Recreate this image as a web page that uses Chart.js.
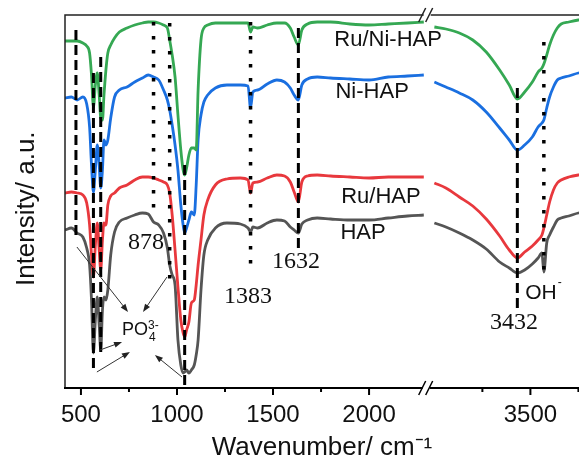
<!DOCTYPE html>
<html>
<head>
<meta charset="utf-8">
<script src="https://cdn.jsdelivr.net/npm/chart.js@4.4.1/dist/chart.umd.min.js"></script>
<style>
  html, body { margin: 0; padding: 0; background: #fff; overflow: hidden; }
  canvas { display: block; }
</style>
</head>
<body>
<canvas id="ftirChart" width="579" height="456"></canvas>
<script>
// FTIR spectra. Intensity is in arbitrary units.
// The x axis is broken between 2300 and 2960 cm-1.
const BREAK_LO = 2300;
const BREAK_HI = 2960;
const SHIFT = 660;

// wavenumbers (cm-1), left part of the axis
const waveLeft = [417, 450, 480, 510, 530, 545, 555, 565, 575, 585, 595, 603, 612, 620, 630, 640, 655, 675, 700,
  740, 780, 820, 850, 878, 905, 930, 950, 962, 975, 990, 1005, 1020, 1032, 1040, 1050, 1062, 1075, 1090, 1100,
  1110, 1125, 1140, 1160, 1200, 1260, 1330, 1370, 1383, 1395, 1420, 1470, 1520, 1560, 1590, 1610, 1632, 1650,
  1680, 1730, 1800, 1900, 2000, 2100, 2200, 2285];
// wavenumbers (cm-1), right part of the axis
const waveRight = [3000, 3060, 3130, 3200, 3270, 3340, 3390, 3432, 3470, 3510, 3540, 3560, 3570, 3585, 3600,
  3620, 3640, 3660, 3700, 3750, 3800];

const ruNiHapLeft = [347, 347, 347, 345, 342, 335, 313, 281, 303, 315, 293, 270, 268, 293, 318, 335, 343, 350, 356,
  360, 363, 365, 366, 366, 365, 363, 360, 348, 333, 311, 273, 238, 218, 213, 220, 233, 240, 240, 238,
  298, 348, 360, 363, 365, 365, 365, 365, 356, 361, 360, 363, 365, 365, 360, 351, 343, 358,
  364, 366, 366, 364, 363, 364, 365, 366];
const ruNiHapRight = [361, 359, 355, 348, 336, 318, 303, 289, 296, 306, 316, 320, 324, 333, 343,
  353, 360, 364, 366, 368, 369];

const niHapLeft = [290, 291, 288, 291, 284, 261, 223, 196, 218, 243, 223, 200, 218, 248, 243, 248, 270, 291, 298,
  301, 306, 310, 313, 311, 308, 298, 288, 278, 263, 243, 218, 183, 163, 155, 160, 168, 176, 173, 203,
  248, 273, 286, 293, 300, 303, 303, 302, 280, 296, 298, 304, 308, 306, 300, 293, 288, 303,
  309, 311, 310, 309, 308, 311, 312, 313];
const niHapRight = [306, 301, 295, 288, 276, 260, 248, 238, 243, 251, 261, 265, 268, 280, 291,
  301, 308, 310, 312, 315, 316];

const ruHapLeft = [195, 196, 195, 193, 185, 163, 133, 111, 143, 165, 138, 118, 148, 165, 163, 183, 192, 195, 200,
  203, 208, 211, 211, 210, 208, 206, 203, 195, 173, 138, 101, 68, 55, 51, 58, 66, 85, 88, 103,
  123, 148, 173, 188, 203, 209, 210, 208, 195, 205, 206, 210, 213, 212, 206, 196, 186, 206,
  212, 213, 212, 211, 210, 211, 211, 211];
const ruHapRight = [205, 200, 191, 182, 169, 152, 138, 130, 136, 142, 148, 153, 160, 173, 186,
  198, 205, 208, 211, 213, 214];

const hapLeft = [158, 160, 155, 151, 140, 123, 88, 35, 68, 91, 63, 38, 78, 91, 88, 98, 133, 156, 166,
  170, 173, 175, 174, 166, 163, 155, 140, 123, 113, 103, 48, 23, 15, 16, 18, 15, 18, 23, 33,
  48, 98, 133, 148, 160, 165, 164, 160, 156, 161, 160, 165, 168, 167, 161, 158, 155, 164,
  168, 170, 169, 168, 168, 170, 172, 173];
const hapRight = [165, 161, 155, 148, 139, 126, 120, 115, 118, 124, 130, 135, 116, 145, 153,
  161, 168, 170, 172, 175, 176];

// band markers: position, top and bottom ends, dashed or dotted
const markerWave = [474, 565, 603, 878, 962, 1040, 1383, 1632, 3432, 3570];
const markerTop = [358, 315, 331, 366, 365, 223, 366, 360, 300, 346];
const markerBottom = [148, 15, 36, 175, 103, 3, 116, 138, 78, 110];
const markerDotted = [false, false, false, true, true, false, true, false, false, true];

// x ticks (labelled ones are major)
const tickWaves = [500, 750, 1000, 1250, 1500, 1750, 2000, 3250, 3500, 3750];
const tickLabels = ['500', '', '1000', '', '1500', '', '2000', '', '3500', ''];

// text labels on the plot
const seriesNames = ['Ru/Ni-HAP', 'Ni-HAP', 'Ru/HAP', 'HAP'];
const seriesNameWave = [2099, 2016, 2062, 1969];
const seriesNameLevel = [348, 296, 191, 155];
const bandNames = ['878', '1383', '1632', '3432'];
const bandNameWave = [839, 1370, 1620, 3415];
const bandNameLevel = [145, 91, 126, 65];

// arrows pointing to the PO4 bands: [wave, level] start -> end
const arrowFrom = [[479, 141], [948, 111], [599, 38], [583, 16], [1026, 11]];
const arrowTo = [[745, 76], [823, 76], [714, 46], [755, 36], [885, 33]];

// map a wavenumber onto the broken axis
function axisPos(w) {
  return w >= BREAK_HI ? w - SHIFT : w;
}

function spectrum(left, right) {
  let pts = waveLeft.map((w, i) => ({x: axisPos(w), y: left[i]}));
  pts.push({x: BREAK_LO, y: null});
  waveRight.forEach((w, i) => pts.push({x: axisPos(w), y: right[i]}));
  return pts;
}

let datasets = [];
markerWave.forEach((w, i) => {
  datasets.push({
    data: [{x: axisPos(w), y: markerTop[i]}, {x: axisPos(w), y: markerBottom[i]}],
    borderColor: '#000',
    borderWidth: markerDotted[i] ? 3.5 : 3,
    borderDash: markerDotted[i] ? [3.5, 10.5] : [10, 5],
    borderCapStyle: 'butt',
    pointRadius: 0,
    order: 0
  });
});

const colors = ['#35a853', '#1a6fe0', '#e8383d', '#555555'];
[[ruNiHapLeft, ruNiHapRight], [niHapLeft, niHapRight], [ruHapLeft, ruHapRight], [hapLeft, hapRight]]
  .forEach((s, i) => {
    datasets.push({
      label: seriesNames[i],
      data: spectrum(s[0], s[1]),
      borderColor: colors[i],
      borderWidth: 2.8,
      pointRadius: 0,
      cubicInterpolationMode: 'monotone',
      spanGaps: false,
      order: 1
    });
  });

// the scale only gets the labelled ticks, the small ones are drawn by hand
const majorWaves = tickWaves.filter((w, i) => tickLabels[i]);
const majorLabels = tickLabels.filter(t => t);

function arrow(ctx, x1, y1, x2, y2) {
  const ang = Math.atan2(y2 - y1, x2 - x1);
  ctx.beginPath();
  ctx.moveTo(x1, y1);
  ctx.lineTo(x2 - 5 * Math.cos(ang), y2 - 5 * Math.sin(ang));
  ctx.stroke();
  ctx.beginPath();
  ctx.moveTo(x2, y2);
  ctx.lineTo(x2 - 8 * Math.cos(ang) + 3 * Math.sin(ang), y2 - 8 * Math.sin(ang) - 3 * Math.cos(ang));
  ctx.lineTo(x2 - 8 * Math.cos(ang) - 3 * Math.sin(ang), y2 - 8 * Math.sin(ang) + 3 * Math.cos(ang));
  ctx.closePath();
  ctx.fill();
}

// frame, broken axis marks, tick marks and text on the plot
const decorations = {
  id: 'decorations',
  afterDraw(chart) {
    const {ctx, chartArea: a, scales: {x, y}} = chart;
    const px = w => x.getPixelForValue(axisPos(w));
    const py = v => y.getPixelForValue(v);
    const xb = x.getPixelForValue((BREAK_LO + BREAK_HI - SHIFT) / 2);
    ctx.save();

    // frame
    ctx.strokeStyle = '#222';
    ctx.lineWidth = 1.5;
    ctx.beginPath();
    ctx.moveTo(a.left, a.bottom);
    ctx.lineTo(a.left, a.top);
    ctx.lineTo(xb - 3, a.top);
    ctx.moveTo(xb + 4, a.top);
    ctx.lineTo(a.right, a.top);
    ctx.stroke();
    ctx.strokeStyle = '#000';
    ctx.lineWidth = 2;
    ctx.beginPath();
    ctx.moveTo(a.left - 1, a.bottom);
    ctx.lineTo(xb - 4, a.bottom);
    ctx.moveTo(xb + 3, a.bottom);
    ctx.lineTo(a.right, a.bottom);
    ctx.stroke();

    // tick marks
    tickWaves.forEach((w, i) => {
      const len = tickLabels[i] ? 7 : 4;
      ctx.beginPath();
      ctx.moveTo(px(w), a.bottom);
      ctx.lineTo(px(w), a.bottom + len);
      ctx.stroke();
    });

    // break marks
    ctx.lineWidth = 1.5;
    [[a.top, '#222'], [a.bottom, '#000']].forEach(([yy, c]) => {
      ctx.strokeStyle = c;
      ctx.beginPath();
      ctx.moveTo(xb - 8, yy + 7);
      ctx.lineTo(xb - 1, yy - 7);
      ctx.moveTo(xb - 1, yy + 7);
      ctx.lineTo(xb + 6, yy - 7);
      ctx.stroke();
    });

    // arrows
    ctx.strokeStyle = '#333';
    ctx.fillStyle = '#222';
    ctx.lineWidth = 1;
    arrowFrom.forEach((f, i) => {
      arrow(ctx, px(f[0]), py(f[1]), px(arrowTo[i][0]), py(arrowTo[i][1]));
    });

    // series names
    ctx.fillStyle = '#111';
    ctx.textAlign = 'center';
    ctx.textBaseline = 'middle';
    ctx.font = '22px "Liberation Sans", Arial, sans-serif';
    seriesNames.forEach((t, i) => ctx.fillText(t, px(seriesNameWave[i]), py(seriesNameLevel[i])));

    // band positions
    ctx.font = '24px "Liberation Serif", "Times New Roman", serif';
    bandNames.forEach((t, i) => ctx.fillText(t, px(bandNameWave[i]), py(bandNameLevel[i])));

    // OH- and PO4 3-
    ctx.textAlign = 'left';
    ctx.font = '21px "Liberation Sans", Arial, sans-serif';
    let ox = px(3473), oy = py(95);
    ctx.fillText('OH', ox, oy);
    let ow = ctx.measureText('OH').width;
    ctx.font = '12px "Liberation Sans", Arial, sans-serif';
    ctx.fillText('-', ox + ow + 1, oy - 10);

    ctx.font = '18px "Liberation Sans", Arial, sans-serif';
    let pxp = px(714), pyp = py(57.5);
    ctx.fillText('PO', pxp, pyp);
    let pw = ctx.measureText('PO').width;
    ctx.font = '12px "Liberation Sans", Arial, sans-serif';
    ctx.fillText('3-', pxp + pw, pyp - 5);
    ctx.fillText('4', pxp + pw + 1, pyp + 7);

    ctx.restore();
  }
};

new Chart(document.getElementById('ftirChart'), {
  type: 'line',
  data: {datasets: datasets},
  options: {
    responsive: false,
    animation: false,
    devicePixelRatio: 1,
    layout: {padding: {top: 15, right: 0, bottom: 0, left: 0}},
    plugins: {legend: {display: false}, tooltip: {enabled: false}},
    scales: {
      x: {
        type: 'linear',
        min: 417,
        max: 3093,
        grid: {display: false},
        border: {display: false},
        afterBuildTicks: scale => {
          scale.ticks = majorWaves.map(w => ({value: axisPos(w)}));
        },
        afterFit: scale => { scale.height = 68; },
        ticks: {
          autoSkip: false,
          maxRotation: 0,
          padding: 5,
          color: '#111',
          font: {family: '"Liberation Sans", Arial, sans-serif', size: 24},
          callback: (value, index) => majorLabels[index]
        },
        title: {
          display: true,
          text: 'Wavenumber/ cm\u207B\u00B9',
          color: '#111',
          font: {family: '"Liberation Sans", Arial, sans-serif', size: 26, lineHeight: 0.6},
          padding: {top: 0, bottom: 0}
        }
      },
      y: {
        min: 0,
        max: 373,
        grid: {display: false},
        border: {display: false},
        ticks: {display: false},
        afterFit: scale => { scale.width = 65; },
        title: {
          display: true,
          text: 'Intensity/ a.u.  ',
          color: '#111',
          font: {family: '"Liberation Sans", Arial, sans-serif', size: 26, lineHeight: 1},
          padding: {top: 14, bottom: 0}
        }
      }
    }
  },
  plugins: [decorations]
});
</script>
</body>
</html>
